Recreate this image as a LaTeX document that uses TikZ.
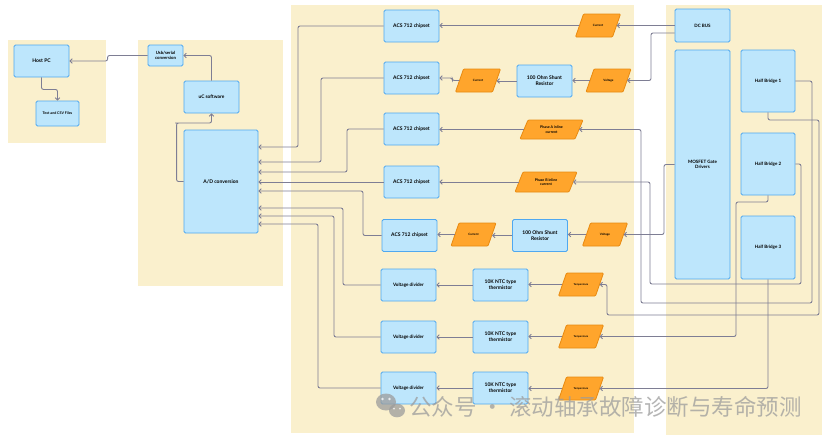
\documentclass[tikz,border=0pt]{standalone}
\usepackage{fontspec}
\setmainfont{Lato}
\newfontfamily\cjk{Noto Sans CJK SC}
\usetikzlibrary{arrows.meta,shapes.geometric,calc}
\definecolor{panel}{HTML}{FAF0CD}
\definecolor{boxf}{HTML}{BDE6FC}
\definecolor{boxb}{HTML}{4FA8F0}
\definecolor{orf}{HTML}{FFA52C}
\definecolor{orb}{HTML}{E88A10}
\definecolor{wire}{HTML}{7E7E94}
\definecolor{wm}{HTML}{9C9C9C}
\newcommand{\fsz}[1]{\fontsize{#1}{\fpeval{#1*1.25}}\selectfont}
\tikzset{
  bx/.style 2 args={draw=boxb, fill=boxf, line width=0.9pt, rounded corners=1.5pt,
    align=center, minimum width=#1, minimum height=#2, inner sep=1pt, font=\bfseries\fsz{5}},
  pgshape/.style={draw=orb, fill=orf, line width=0.8pt, rounded corners=1pt},
  pgtext/.style={align=center, inner sep=0pt, font=\bfseries\fsz{3}},
  arr/.style={draw=wire, line width=0.9pt, rounded corners=2pt,
    -{Straight Barb[length=2.2pt,width=4.5pt]}},
}
% parallelogram: name, x, y, w, h, options, text  (slant 8)
\newcommand{\pgram}[7]{%
  \draw[pgshape] (#2-#4/2,#3+#5/2) -- (#2+#4/2-8,#3+#5/2) -- (#2+#4/2,#3-#5/2)
     -- (#2-#4/2+8,#3-#5/2) -- cycle;
  \node[pgtext, minimum width={#4-8}, minimum height=#5, #6] (#1) at (#2,#3) {#7};}
\begin{document}
\begin{tikzpicture}[x=1pt,y=-1pt]
\useasboundingbox (0,0) rectangle (826,439);
\fill[white] (0,0) rectangle (826,439);
% panels
\fill[panel] (8,40) rectangle (106,143);
\fill[panel] (138,40) rectangle (283,286);
\fill[panel] (291,5) rectangle (634,433);
\fill[panel] (666,5) rectangle (822,435);

% left nodes
\node[bx={55}{32}, font=\bfseries\fsz{5}] (hostpc) at (41.5,61) {Host PC};
\node[bx={43}{25}, font=\bfseries\fsz{3.6}] (files) at (57.5,113.5) {Text and CSV Files};
\node[bx={35}{21}, font=\bfseries\fsz{4.3}] (usb) at (165.5,55.5) {Usb/serial\\conversion};
\node[bx={55}{32}, font=\bfseries\fsz{4.8}] (uc) at (211.5,97) {uC software};
\node[bx={74}{103}] (ad) at (221,181.5) {A/D conversion};

% middle nodes
\node[bx={55}{32}] (acs1) at (411.5,26) {ACS 712 chipset};
\node[bx={55}{32}] (acs2) at (411.5,78) {ACS 712 chipset};
\node[bx={55}{32}] (acs3) at (411.5,129) {ACS 712 chipset};
\node[bx={55}{32}] (acs4) at (411.5,182) {ACS 712 chipset};
\node[bx={55}{32}] (acs5) at (409.5,235.5) {ACS 712 chipset};
\node[bx={55}{32}, font=\bfseries\fsz{4.6}] (vd1) at (408.5,285) {Voltage divider};
\node[bx={55}{32}, font=\bfseries\fsz{4.6}] (vd2) at (408.5,337) {Voltage divider};
\node[bx={55}{32}, font=\bfseries\fsz{4.6}] (vd3) at (408.5,388) {Voltage divider};
\node[bx={55}{32}] (sh1) at (544.5,81) {100 Ohm Shunt\\Resistor};
\node[bx={55}{32}] (sh2) at (540,235.5) {100 Ohm Shunt\\Resistor};
\node[bx={55}{32}] (ntc1) at (500.5,285) {10K NTC type\\thermistor};
\node[bx={55}{32}] (ntc2) at (500.5,337) {10K NTC type\\thermistor};
\node[bx={55}{32}] (ntc3) at (500.5,388) {10K NTC type\\thermistor};

% parallelograms
\pgram{cur1}{598}{25.5}{45}{23}{}{Current}
\pgram{cur2}{478}{80.5}{45}{23}{}{Current}
\pgram{volt1}{608.5}{80.5}{45}{23}{}{Voltage}
\pgram{pha}{551.5}{129.5}{63}{19}{font=\bfseries\fsz{3.6}}{Phase A inline\\current}
\pgram{phb}{546}{182}{62}{20}{font=\bfseries\fsz{3.6}}{Phase B inline\\current}
\pgram{cur3}{473.5}{234.5}{45}{23}{}{Current}
\pgram{volt2}{605}{234.5}{45}{23}{}{Voltage}
\pgram{temp1}{581}{284.5}{45}{23}{font=\bfseries\fsz{2.6}}{Temperature}
\pgram{temp2}{581}{336.5}{45}{23}{font=\bfseries\fsz{2.6}}{Temperature}
\pgram{temp3}{581}{388.5}{45}{23}{font=\bfseries\fsz{2.6}}{Temperature}

% right nodes
\node[bx={55}{33}, font=\bfseries\fsz{4.5}] (dcbus) at (702.5,25.5) {DC BUS};
\node[bx={55}{229}, font=\bfseries\fsz{4.5}] (mosfet) at (702.5,164.5) {MOSFET Gate\\Drivers};
\node[bx={54}{62}, font=\bfseries\fsz{4.5}] (hb1) at (768,81) {Half Bridge 1};
\node[bx={54}{62}, font=\bfseries\fsz{4.5}] (hb2) at (768,164) {Half Bridge 2};
\node[bx={54}{63}, font=\bfseries\fsz{4.5}] (hb3) at (768,247.5) {Half Bridge 3};

% entry points on A/D
\coordinate (i1) at ([yshift=34.5pt]ad.east);
\coordinate (i2) at ([yshift=19.5pt]ad.east);
\coordinate (i3) at ([yshift=9.5pt]ad.east);
\coordinate (i5) at ([yshift=-9.5pt]ad.east);
\coordinate (i6) at ([yshift=-26.5pt]ad.east);
\coordinate (i7) at ([yshift=-34.5pt]ad.east);
\coordinate (i8) at ([yshift=-42.5pt]ad.east);

% left connectors
\draw[arr] (hostpc.south) -- ++(0,12) -| (files.north);
\draw[arr] (usb.west) -- ++(-40,0) |- (hostpc.east);
\draw[arr] (uc.north) |- (usb.east);
\draw[arr] (ad.west) -- ++(-7,0) |- (177,123) -| (uc.south);

% into A/D
\draw[arr] (acs1.west) -| (298,147) -- (i1);
\draw[arr] (acs2.west) -| (321,162) -- (i2);
\draw[arr] (acs3.west) -| (347,172) -- (i3);
\draw[arr] (acs4.west) -- (acs4.west -| ad.east);
\draw[arr] (acs5.west) -| (363,191) -- (i5);
\draw[arr] (vd1.west) -| (343,208) -- (i6);
\draw[arr] (vd2.west) -| (334,216) -- (i7);
\draw[arr] (vd3.west) -| (318,224) -- (i8);

% row 1
\draw[arr] (dcbus.west) -- (dcbus.west -| cur1.east);
\draw[arr] (cur1.west) -- (cur1.west -| acs1.east);
% row 2
\draw[arr] ([yshift=-7.5pt]dcbus.west) -| (651,80.5) -- (volt1.east);
\draw[arr] (volt1.west) -- (volt1.west -| sh1.east);
\draw[arr] (sh1.west) -- (sh1.west -| cur2.east);
\draw[arr] (cur2.west) -- ++(-7,0) |- (acs2.east);
% row 3
\draw[arr] (hb1.east) -| (812,303) -| (641,129.5) -- (pha.east);
\draw[arr] (pha.west) -- (pha.west -| acs3.east);
% row 4
\draw[arr] (hb2.east) -| (801,284) -| (650,182) -- (phb.east);
\draw[arr] (phb.west) -- (phb.west -| acs4.east);
% row 5
\draw[arr] (mosfet.west) -| (664,234.5) -- (volt2.east);
\draw[arr] (volt2.west) -- (volt2.west -| sh2.east);
\draw[arr] (sh2.west) -- (sh2.west -| cur3.east);
\draw[arr] (cur3.west) -- (cur3.west -| acs5.east);
% temperatures
\draw[arr] (hb1.south) |- (819,120) |- (607,315) |- (temp1.east);
\draw[arr] (hb2.south) |- (736,202) |- (temp2.east);
\draw[arr] (hb3.south) |- (temp3.east);
\draw[arr] (temp1.west) -- (temp1.west -| ntc1.east);
\draw[arr] (temp2.west) -- (temp2.west -| ntc2.east);
\draw[arr] (temp3.west) -- (temp3.west -| ntc3.east);
\draw[arr] (ntc1.west) -- (ntc1.west -| vd1.east);
\draw[arr] (ntc2.west) -- (ntc2.west -| vd2.east);
\draw[arr] (ntc3.west) -- (ntc3.west -| vd3.east);

% watermark
\begin{scope}[opacity=0.75]
\fill[wm] (386,402) ellipse (10 and 8.5);
\fill[wm] (397,410.5) ellipse (8 and 6.8);
\fill[white] (382.5,399) circle (1.3) (389.5,399) circle (1.3);
\fill[white] (394,408.5) circle (1) (400,408.5) circle (1);
\node[anchor=west, text=wm, inner sep=0, font=\cjk\fontsize{22.5}{25}\selectfont] (wmtext) at (409,407) {公众号 · 滚动轴承故障诊断与寿命预测};
\end{scope}
\end{tikzpicture}
\end{document}
